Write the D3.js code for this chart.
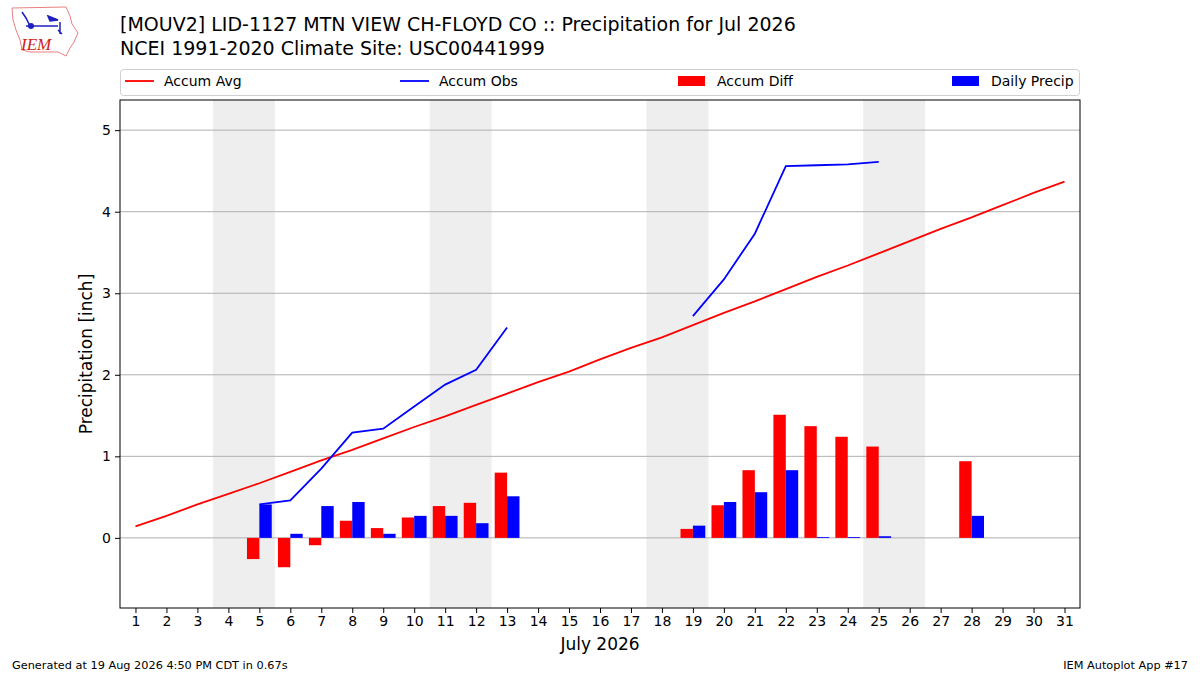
<!DOCTYPE html>
<html><head><meta charset="utf-8">
<script src="https://cdn.jsdelivr.net/npm/d3@7"></script>
<style>body{margin:0;background:#fff}svg{font-family:"DejaVu Sans",sans-serif}</style>
</head><body><svg id="c" width="1200" height="675"></svg>
<script>
const days = d3.range(1, 32);
const accumAvg = [0.14,0.27,0.41,0.54,0.67,0.81,0.95,1.08,1.22,1.36,1.49,1.63,1.77,1.91,2.04,2.19,2.33,2.46,2.61,2.76,2.90,3.05,3.20,3.34,3.49,3.64,3.79,3.93,4.08,4.23,4.37];
const accumObs = [null,null,null,null,0.41,0.46,0.85,1.29,1.34,1.61,1.88,2.06,2.58,null,null,null,null,null,2.72,3.17,3.73,4.56,4.57,4.58,4.61,null,null,null,null,null,null];
const accumDiff = [null,null,null,null,-0.26,-0.36,-0.09,0.21,0.12,0.25,0.39,0.43,0.80,null,null,null,null,null,0.11,0.40,0.83,1.51,1.37,1.24,1.12,null,null,0.94,null,null,null];
const dailyPrecip = [null,null,null,null,0.41,0.05,0.39,0.44,0.05,0.27,0.27,0.18,0.51,null,null,null,null,null,0.15,0.44,0.56,0.83,0.01,0.01,0.02,null,null,0.27,null,null,null];
const weekends = [[4,5],[11,12],[18,19],[25,26]];
const yTicks = [0,1,2,3,4,5];

const svg = d3.select("#c");
const L=120, R=1080, T=100, B=608;
const x = d3.scaleLinear().domain([0.5,31.5]).range([L,R]);
const y = d3.scaleLinear().domain([-0.86,5.37]).range([B,T]);
const bw = x(0.4)-x(0);

// weekend shading
svg.selectAll("rect.wk").data(weekends).join("rect")
  .attr("x", d=>x(d[0]-0.5)).attr("width", d=>x(d[1]+0.5)-x(d[0]-0.5))
  .attr("y", T).attr("height", B-T).attr("fill", "#eeeeee");

// grid
svg.append("g").selectAll("line").data(yTicks).join("line")
  .attr("x1",L).attr("x2",R).attr("y1",d=>y(d)).attr("y2",d=>y(d))
  .attr("stroke","#b0b0b0").attr("stroke-width",1);

// bars
const idx = d3.range(days.length);
svg.append("g").selectAll("rect").data(idx.filter(i=>accumDiff[i]!==null)).join("rect")
  .attr("x", i=>x(days[i]-0.4)).attr("width", bw)
  .attr("y", i=>y(Math.max(0,accumDiff[i]))).attr("height", i=>Math.abs(y(accumDiff[i])-y(0)))
  .attr("fill","#ff0000");
svg.append("g").selectAll("rect").data(idx.filter(i=>dailyPrecip[i]!==null)).join("rect")
  .attr("x", i=>x(days[i])).attr("width", bw)
  .attr("y", i=>y(Math.max(0,dailyPrecip[i]))).attr("height", i=>Math.abs(y(dailyPrecip[i])-y(0)))
  .attr("fill","#0000ff");

// lines
const line = d3.line().defined(d=>d[1]!==null).x(d=>x(d[0])).y(d=>y(d[1]));
svg.append("path").attr("d", line(days.map((d,i)=>[d,accumAvg[i]])))
  .attr("fill","none").attr("stroke","#ff0000").attr("stroke-width",1.8);
svg.append("path").attr("d", line(days.map((d,i)=>[d,accumObs[i]])))
  .attr("fill","none").attr("stroke","#0000ff").attr("stroke-width",1.8);

// frame
svg.append("rect").attr("x",L).attr("y",T).attr("width",R-L).attr("height",B-T)
  .attr("fill","none").attr("stroke","#000").attr("stroke-width",1);

// axes
const xa = svg.append("g").attr("transform",`translate(0,${B})`)
  .call(d3.axisBottom(x).tickValues(days).tickFormat(d3.format("d")).tickSize(5).tickPadding(3));
const ya = svg.append("g").attr("transform",`translate(${L},0)`)
  .call(d3.axisLeft(y).tickValues(yTicks).tickFormat(d3.format("d")).tickSize(5).tickPadding(4));
[xa,ya].forEach(a=>{a.select(".domain").remove();a.selectAll("text").attr("font-size",14).attr("fill","#000").attr("font-family","DejaVu Sans");a.selectAll("line").attr("stroke","#000");});

// labels
svg.append("text").attr("x",600).attr("y",650).attr("text-anchor","middle").attr("font-size",17).text("July 2026");
svg.append("text").attr("transform",`translate(92,${(T+B)/2}) rotate(-90)`).attr("text-anchor","middle").attr("font-size",17).text("Precipitation [inch]");
svg.append("text").attr("x",120).attr("y",31).attr("font-size",19).text("[MOUV2] LID-1127 MTN VIEW CH-FLOYD CO :: Precipitation for Jul 2026");
svg.append("text").attr("x",120).attr("y",55).attr("font-size",19).text("NCEI 1991-2020 Climate Site: USC00441999");
svg.append("text").attr("x",12).attr("y",669).attr("font-size",11.3).text("Generated at 19 Aug 2026 4:50 PM CDT in 0.67s");
svg.append("text").attr("x",1188).attr("y",669).attr("text-anchor","end").attr("font-size",11.3).text("IEM Autoplot App #17");

// legend
svg.append("rect").attr("x",120.5).attr("y",69.5).attr("width",959).attr("height",26).attr("rx",3)
  .attr("fill","#fff").attr("stroke","#d0d0d0");
const leg = [
  {t:"Accum Avg", c:"#ff0000", k:"line", x:125},
  {t:"Accum Obs", c:"#0000ff", k:"line", x:400},
  {t:"Accum Diff", c:"#ff0000", k:"rect", x:678},
  {t:"Daily Precip", c:"#0000ff", k:"rect", x:952}
];
leg.forEach(l=>{
  if(l.k==="line") svg.append("line").attr("x1",l.x).attr("x2",l.x+29).attr("y1",81).attr("y2",81).attr("stroke",l.c).attr("stroke-width",1.8);
  else svg.append("rect").attr("x",l.x).attr("y",76).attr("width",27).attr("height",10).attr("fill",l.c);
  svg.append("text").attr("x",l.x+39).attr("y",86).attr("font-size",14).text(l.t);
});

// logo
const lg = svg.append("g");
lg.append("path").attr("d","M12,8 L66,7 L70,16 L72,24 L78,33 L74,42 L70,48 L66,56 L58,52 L30,52 L22,50 L20,40 L16,30 L13,20 Z")
  .attr("fill","none").attr("stroke","#e88080").attr("stroke-width",1);
lg.append("path").attr("d","M26,26 L58,26 M60,22 L60,34 M58,30 L62,34 M48,16 L58,20 L50,21 Z M22,12 L26,18 L30,26")
  .attr("fill","#2020c0").attr("stroke","#2020c0").attr("stroke-width",1.5);
lg.append("circle").attr("cx",31).attr("cy",26).attr("r",3).attr("fill","#2020c0");
lg.append("text").attr("x",21).attr("y",50).attr("font-family","Liberation Serif").attr("font-style","italic").attr("font-size",17).attr("fill","#d02020").text("IEM");
</script></body></html>
